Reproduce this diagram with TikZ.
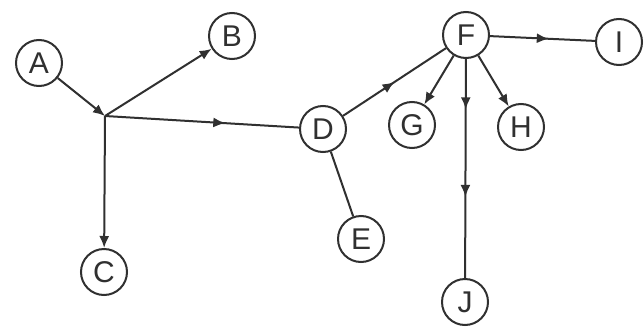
\documentclass[tikz,border=0pt]{standalone}
\usepackage{fontspec}
\setmainfont{Liberation Sans}
\usetikzlibrary{arrows.meta,decorations.markings}
\definecolor{ink}{HTML}{303030}
\tikzset{
  vertex/.style={circle,draw=ink,line width=2pt,minimum size=46pt,inner sep=0pt,
    font=\fontsize{30}{30}\selectfont,text=ink},
  link/.style={draw=ink,line width=2pt},
  tip/.style={-{Latex[length=12pt,width=10pt]}},
  midarrow/.style={postaction={decorate},decoration={markings,
    mark=at position #1 with {\arrow{Latex[length=12pt,width=10pt]}}}},
  twoarrows/.style 2 args={postaction={decorate},decoration={markings,
    mark=at position #1 with {\arrow{Latex[length=12pt,width=10pt]}},
    mark=at position #2 with {\arrow{Latex[length=12pt,width=10pt]}}}},
}
\begin{document}
\begin{tikzpicture}[x=1pt,y=-1pt]
  \useasboundingbox[fill=white] (0,0) rectangle (644,329);

  % vertices
  \node[vertex] (A) at (39,63)   {A};
  \node[vertex] (B) at (232,36)  {B};
  \node[vertex] (C) at (104,272) {C};
  \node[vertex] (D) at (323,129) {D};
  \node[vertex] (E) at (361,239) {E};
  \node[vertex] (F) at (466,35)  {F};
  \node[vertex] (G) at (412,125) {G};
  \node[vertex] (H) at (521,127) {H};
  \node[vertex] (I) at (619,42)  {I};
  \node[vertex] (J) at (465,302) {J};

  % branching point below A
  \coordinate (K) at (105,116);

  % connectors
  \draw[link,tip] (A) -- (K);
  \draw[link,tip] (K) -- (B);
  \draw[link,tip] (K) -- (C);
  \draw[link,midarrow=0.62] (K) -- (D);
  \draw[link] (D) -- (E);
  \draw[link,midarrow=0.5] (D) -- (F);
  \draw[link,midarrow=0.56] (F) -- (I);
  \draw[link,tip] (F) -- (G);
  \draw[link,tip] (F) -- (H);
  \draw[link,twoarrows={0.23}{0.63}] (F) -- (J);
\end{tikzpicture}
\end{document}
